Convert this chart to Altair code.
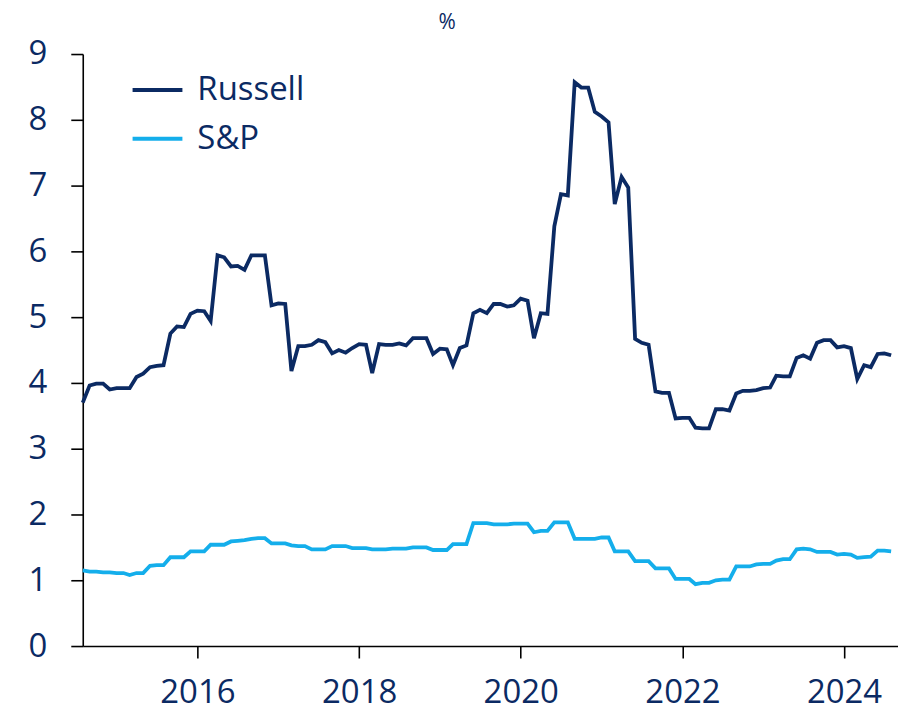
import altair as alt
import pandas as pd

# Monthly observations, Aug 2014 .. Aug 2024
start_month = "2014-08-01"
n_months = 121

russell = [
    3.70, 3.96, 3.99, 3.99, 3.90, 3.92, 3.92, 3.92, 4.09, 4.14,
    4.24, 4.26, 4.27, 4.75, 4.86, 4.85, 5.05, 5.10, 5.09, 4.94,
    5.94, 5.91, 5.77, 5.78, 5.72, 5.94, 5.94, 5.94, 5.18, 5.21,
    5.20, 4.18, 4.56, 4.56, 4.58, 4.65, 4.62, 4.45, 4.50, 4.46,
    4.53, 4.59, 4.58, 4.15, 4.59, 4.58, 4.58, 4.60, 4.57, 4.68,
    4.68, 4.68, 4.44, 4.52, 4.51, 4.27, 4.53, 4.57, 5.06, 5.11,
    5.06, 5.20, 5.20, 5.16, 5.18, 5.28, 5.25, 4.68, 5.06, 5.05,
    6.38, 6.87, 6.85, 8.57, 8.49, 8.49, 8.12, 8.05, 7.96, 6.72,
    7.13, 6.97, 4.67, 4.61, 4.58, 3.87, 3.85, 3.85, 3.46, 3.47,
    3.47, 3.32, 3.31, 3.31, 3.60, 3.60, 3.58, 3.84, 3.88, 3.88,
    3.89, 3.92, 3.93, 4.11, 4.10, 4.10, 4.38, 4.42, 4.37, 4.61,
    4.65, 4.65, 4.54, 4.56, 4.53, 4.06, 4.27, 4.24, 4.44, 4.45,
    4.42,
]

sp = [
    1.15, 1.13, 1.13, 1.12, 1.12, 1.11, 1.11, 1.08, 1.11, 1.11,
    1.22, 1.23, 1.23, 1.35, 1.35, 1.35, 1.44, 1.44, 1.44, 1.54,
    1.54, 1.54, 1.59, 1.60, 1.61, 1.63, 1.64, 1.64, 1.56, 1.56,
    1.56, 1.53, 1.52, 1.52, 1.47, 1.47, 1.47, 1.52, 1.52, 1.52,
    1.49, 1.49, 1.49, 1.47, 1.47, 1.47, 1.48, 1.48, 1.48, 1.50,
    1.50, 1.50, 1.46, 1.46, 1.46, 1.55, 1.55, 1.55, 1.87, 1.87,
    1.87, 1.85, 1.85, 1.85, 1.86, 1.86, 1.86, 1.73, 1.75, 1.75,
    1.88, 1.88, 1.88, 1.63, 1.63, 1.63, 1.63, 1.65, 1.65, 1.44,
    1.44, 1.44, 1.29, 1.29, 1.29, 1.18, 1.18, 1.18, 1.02, 1.02,
    1.02, 0.94, 0.96, 0.96, 1.00, 1.01, 1.01, 1.21, 1.21, 1.21,
    1.24, 1.25, 1.25, 1.30, 1.32, 1.32, 1.47, 1.48, 1.47, 1.43,
    1.43, 1.43, 1.39, 1.40, 1.39, 1.34, 1.35, 1.36, 1.45, 1.45,
    1.44,
]

series_names = ["Russell", "S&P"]
series_colors = ["#0b2a63", "#14aeeb"]
year_ticks = [2016, 2018, 2020, 2022, 2024]
y_ticks = [0, 1, 2, 3, 4, 5, 6, 7, 8, 9]

dates = pd.date_range(start_month, periods=n_months, freq="MS")
df = pd.DataFrame({
    "date": list(dates) * 2,
    "value": russell + sp,
    "series": [series_names[0]] * n_months + [series_names[1]] * n_months,
})

navy = "#0b2a63"
font = "Open Sans"

chart = (
    alt.Chart(df)
    .mark_line(strokeWidth=3.8)
    .encode(
        x=alt.X(
            "date:T",
            title=None,
            scale=alt.Scale(
                domain=[alt.DateTime(year=2014, month=8, date=1),
                        alt.DateTime(year=2024, month=9, date=1)],
                nice=False,
            ),
            axis=alt.Axis(
                values=[alt.DateTime(year=y, month=1, date=1) for y in year_ticks],
                format="%Y",
                grid=False,
                tickSize=12,
                tickWidth=1.6,
                tickColor="black",
                domainColor="black",
                domainWidth=1.6,
                labelFontSize=33,
                labelFont=font,
                labelColor=navy,
                labelPadding=19,
                labelFlush=False,
            ),
        ),
        y=alt.Y(
            "value:Q",
            title=None,
            scale=alt.Scale(domain=[0, 9], nice=False),
            axis=alt.Axis(
                values=y_ticks,
                grid=False,
                tickSize=12,
                tickWidth=1.6,
                tickColor="black",
                domainColor="black",
                domainWidth=1.6,
                labelFontSize=33,
                labelFont=font,
                labelColor=navy,
                labelPadding=24,
            ),
        ),
        color=alt.Color(
            "series:N",
            title=None,
            scale=alt.Scale(domain=series_names, range=series_colors),
            legend=alt.Legend(
                orient="none",
                legendX=48,
                legendY=9,
                symbolType="stroke",
                symbolSize=2500,
                symbolStrokeWidth=4,
                labelFontSize=33,
                labelFont=font,
                labelColor=navy,
                labelOffset=13,
                rowPadding=5,
                padding=0,
            ),
        ),
    )
    .properties(
        width=818,
        height=594,
        autosize=alt.AutoSizeParams(type="none"),
        padding={"left": 75, "top": 45, "right": 0, "bottom": 65},
        title=alt.TitleParams(
            text="%",
            anchor="start",
            frame="group",
            dx=357,
            offset=5,
            fontSize=21,
            font=font,
            fontWeight="normal",
            color=navy,
        ),
    )
    .configure_view(stroke="transparent")
)

chart.save("out.html", embed_options={"renderer": "svg", "actions": False})
